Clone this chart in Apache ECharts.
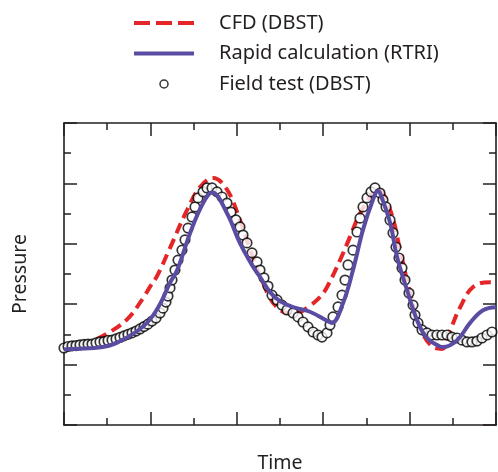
<!DOCTYPE html>
<html>
<head>
<meta charset="utf-8">
<script src="https://cdn.jsdelivr.net/npm/echarts@6/dist/echarts.min.js"></script>
<style>
  html, body { margin: 0; padding: 0; background: #fff; }
  #main { width: 498px; height: 472px; }
</style>
</head>
<body>
<div id="main"></div>
<script>
// series names
var seriesNames = ['CFD (DBST)', 'Rapid calculation (RTRI)', 'Field test (DBST)'];

// CFD (DBST) - red dashed, [time, pressure]
var cfdData = [
    [0, 2.55], [0.5, 2.7], [1.0, 3.03], [1.46, 3.5], [1.83, 4.2], [2.0, 4.6], [2.15, 4.92],
    [2.45, 5.85], [2.85, 7.12], [3.15, 7.88], [3.45, 8.18], [3.77, 7.8], [4.07, 6.8],
    [4.31, 5.8], [4.61, 4.7], [4.77, 4.2], [4.93, 3.9], [5.15, 3.72], [5.39, 3.72],
    [5.69, 3.95], [5.93, 4.24], [6.09, 4.57], [6.39, 5.46], [6.62, 6.23], [6.85, 7.0],
    [7.15, 7.68], [7.27, 7.78], [7.55, 7.12], [7.78, 5.79], [8.01, 4.37], [8.24, 3.24],
    [8.54, 2.58], [8.75, 2.52], [8.94, 3.14], [9.17, 3.9], [9.47, 4.57], [9.86, 4.73], [10, 4.73]
];

// Rapid calculation (RTRI) - purple solid
var rapidData = [
    [0, 2.5], [0.2, 2.52], [0.9, 2.58], [1.46, 2.9], [1.92, 3.38], [2.22, 4.0],
    [2.45, 4.7], [2.62, 5.13], [2.92, 6.36], [3.22, 7.35], [3.43, 7.7], [3.77, 7.02],
    [4.07, 6.03], [4.38, 5.23], [4.54, 4.9], [4.77, 4.4], [5.0, 4.1], [5.3, 3.9],
    [5.69, 3.75], [6.09, 3.45], [6.2, 3.38], [6.46, 4.04], [6.69, 5.13], [6.92, 6.46],
    [7.15, 7.45], [7.27, 7.75], [7.31, 7.7], [7.55, 6.69], [7.71, 5.56], [7.94, 4.47],
    [8.17, 3.48], [8.4, 2.88], [8.7, 2.6], [8.77, 2.58], [9.1, 2.81], [9.4, 3.38],
    [9.7, 3.8], [10, 3.9]
];

// Field test (DBST) - open circles
var fieldData = [
    [0, 2.55], [0.093, 2.6], [0.185, 2.62], [0.278, 2.63], [0.37, 2.65], [0.463, 2.67],
    [0.556, 2.68], [0.648, 2.68], [0.741, 2.72], [0.833, 2.75], [0.926, 2.76], [1.019, 2.8],
    [1.111, 2.81], [1.204, 2.85], [1.296, 2.9], [1.389, 2.95], [1.481, 3.0], [1.574, 3.05],
    [1.667, 3.11], [1.759, 3.18], [1.852, 3.26], [1.944, 3.34], [2.037, 3.44], [2.13, 3.54],
    [2.222, 3.71], [2.292, 3.87], [2.361, 4.07], [2.407, 4.27], [2.454, 4.54], [2.5, 4.8],
    [2.569, 5.13], [2.639, 5.46], [2.731, 5.79], [2.801, 6.13], [2.87, 6.52], [2.963, 6.89],
    [3.032, 7.22], [3.102, 7.52], [3.218, 7.72], [3.31, 7.85], [3.426, 7.85], [3.542, 7.72],
    [3.657, 7.55], [3.773, 7.35], [3.866, 7.05], [3.981, 6.79], [4.074, 6.56], [4.144, 6.29],
    [4.236, 6.03], [4.352, 5.7], [4.468, 5.4], [4.537, 5.13], [4.63, 4.87], [4.722, 4.6],
    [4.815, 4.3], [4.931, 4.14], [5.046, 3.97], [5.162, 3.81], [5.301, 3.71], [5.417, 3.58],
    [5.532, 3.41], [5.648, 3.25], [5.764, 3.08], [5.88, 2.98], [5.972, 2.91], [6.088, 3.05],
    [6.157, 3.31], [6.227, 3.58], [6.343, 3.91], [6.435, 4.3], [6.505, 4.8], [6.574, 5.3],
    [6.69, 5.79], [6.782, 6.39], [6.852, 6.85], [6.921, 7.22], [7.014, 7.52], [7.106, 7.72],
    [7.199, 7.85], [7.315, 7.68], [7.384, 7.45], [7.454, 7.22], [7.546, 6.79], [7.616, 6.36],
    [7.685, 5.89], [7.755, 5.53], [7.824, 5.2], [7.894, 4.8], [7.986, 4.37], [8.079, 3.97],
    [8.125, 3.64], [8.194, 3.38], [8.287, 3.15], [8.403, 3.05], [8.519, 2.98], [8.634, 2.98],
    [8.75, 2.98], [8.866, 2.98], [8.981, 2.91], [9.097, 2.88], [9.213, 2.81], [9.329, 2.75],
    [9.444, 2.75], [9.56, 2.78], [9.676, 2.88], [9.792, 2.98], [9.907, 3.08]
];

var axisRange = [0, 10];
var majorStep = 2;

var ink = '#231f20';
var font = 'Noto Sans';
var red = '#e52628';
var purple = '#5a4ca2';

function frameAxis(type, pos, showName, name) {
    var ax = {
        type: 'value',
        position: pos,
        min: axisRange[0],
        max: axisRange[1],
        interval: majorStep,
        axisLine: { show: true, onZero: false, lineStyle: { color: ink, width: 1.6 } },
        axisTick: { show: true, inside: true, length: 13, lineStyle: { color: ink, width: 1.5 } },
        minorTick: { show: true, splitNumber: 2, length: 7, lineStyle: { color: ink, width: 1.5 } },
        axisLabel: { show: false },
        splitLine: { show: false },
        minorSplitLine: { show: false }
    };
    if (showName) {
        ax.name = name;
        ax.nameLocation = 'middle';
        ax.nameTextStyle = { color: ink, fontSize: 19.5, fontFamily: font };
        ax.nameGap = type === 'x' ? 28 : 34;
    }
    return ax;
}

var myChart = echarts.init(document.getElementById('main'));

var option = {
    animation: false,
    backgroundColor: '#fff',
    grid: { left: 64, right: 2, top: 123, bottom: 47, containLabel: false, outerBoundsMode: 'none' },
    legend: {
        orient: 'vertical',
        left: 127,
        top: 8,
        itemWidth: 60,
        itemHeight: 8,
        itemGap: 10.5,
        symbolKeepAspect: true,
        textStyle: { color: ink, fontSize: 20, fontFamily: font, padding: [0, 0, 0, 20] },
        data: [
            { name: seriesNames[0], itemStyle: { opacity: 0 }, lineStyle: { color: red, type: [16, 6], width: 4 } },
            { name: seriesNames[1], itemStyle: { opacity: 0 }, lineStyle: { color: purple, width: 4 } },
            { name: seriesNames[2], icon: 'circle', itemStyle: { color: '#fff', borderColor: '#000', borderWidth: 1.5 } }
        ]
    },
    xAxis: [
        frameAxis('x', 'bottom', true, 'Time'),
        frameAxis('x', 'top', false)
    ],
    yAxis: [
        frameAxis('y', 'left', true, 'Pressure'),
        frameAxis('y', 'right', false)
    ],
    series: [
        {
            name: seriesNames[0],
            type: 'line',
            data: cfdData,
            smooth: 0.4,
            symbol: 'none',
            z: 2,
            itemStyle: { color: red },
            lineStyle: { color: red, width: 4, type: [11, 6] }
        },
        {
            name: seriesNames[2],
            type: 'scatter',
            data: fieldData,
            symbol: 'circle',
            symbolSize: 9.5,
            z: 3,
            itemStyle: { color: '#fff', borderColor: '#000', borderWidth: 1.7 }
        },
        {
            name: seriesNames[1],
            type: 'line',
            data: rapidData,
            smooth: 0.4,
            symbol: 'none',
            z: 4,
            itemStyle: { color: purple },
            lineStyle: { color: purple, width: 4 }
        }
    ]
};

myChart.setOption(option);
window.addEventListener('resize', function () {
    myChart.resize();
});
</script>
</body>
</html>
